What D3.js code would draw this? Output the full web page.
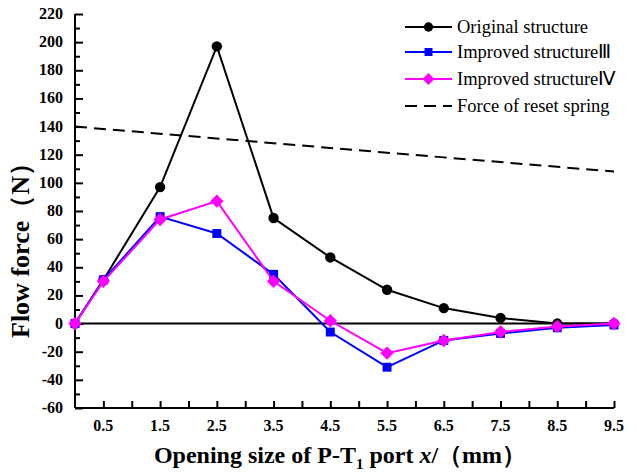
<!DOCTYPE html>
<html lang="en">

<head>
    <meta charset="UTF-8">
    <title>Flow force</title>
    <script src="https://d3js.org/d3.v7.min.js"></script>
    <style>
        body { margin: 0; background: #fff; }
    </style>
</head>

<body>
    <script>
        var xs = [0, 0.5, 1.5, 2.5, 3.5, 4.5, 5.5, 6.5, 7.5, 8.5, 9.5];
        var original = [0, 31, 97, 197, 75, 47, 24, 11, 4, 0, 0];
        var improved3 = [0, 31, 76, 64, 35, -6, -31, -12, -7, -3, -1];
        var improved4 = [0, 30, 74, 87, 30, 2, -21, -12, -6, -2, 0];
        var springX = [0, 9.5];
        var springY = [140, 108];
        var xTickLabels = [0.5, 1.5, 2.5, 3.5, 4.5, 5.5, 6.5, 7.5, 8.5, 9.5];
        var yTicks = [-60, -40, -20, 0, 20, 40, 60, 80, 100, 120, 140, 160, 180, 200, 220];

        var serif = "'Liberation Serif', 'Times New Roman', serif";
        var width = 637, height = 472;
        var svg = d3.select("body").append("svg")
            .attr("width", width)
            .attr("height", height)
            .style("font-family", serif);

        var x = d3.scaleLinear().domain([0, 9.5]).range([75, 614]);
        var y = d3.scaleLinear().domain([-60, 220]).range([408, 14]);

        // y axis, ticks pointing inward
        var yAxis = svg.append("g").attr("transform", "translate(75,0)");
        yAxis.call(d3.axisRight(y).tickValues(yTicks).tickSize(8).tickFormat(""));
        yAxis.append("g").call(d3.axisRight(y).tickValues(d3.range(-50, 220, 20)).tickSize(5).tickFormat(""));
        yAxis.selectAll(".domain").attr("d", "M0," + y(220) + "V" + y(-60));
        yAxis.selectAll("path, line").attr("stroke", "#000").attr("stroke-width", 2);
        svg.append("g").selectAll("text").data(yTicks).enter().append("text")
            .attr("x", 63).attr("y", function (d) { return y(d) + 5; })
            .attr("text-anchor", "end")
            .style("font-family", serif)
            .attr("font-size", 16).attr("font-weight", "bold")
            .text(function (d) { return d; });

        // x axis at bottom, ticks pointing up
        var xAxis = svg.append("g").attr("transform", "translate(0,408)");
        xAxis.call(d3.axisTop(x).tickValues(d3.range(0.5, 9.51, 0.5)).tickSize(7).tickFormat(""));
        xAxis.selectAll(".domain").attr("d", "M" + x(0) + ",0H" + x(9.5));
        xAxis.selectAll("path, line").attr("stroke", "#000").attr("stroke-width", 2);
        svg.append("g").selectAll("text").data(xTickLabels).enter().append("text")
            .attr("x", function (d) { return x(d); }).attr("y", 431)
            .attr("text-anchor", "middle")
            .style("font-family", serif)
            .attr("font-size", 16).attr("font-weight", "bold")
            .text(function (d) { return d.toFixed(1); });

        // zero line
        svg.append("line")
            .attr("x1", x(0)).attr("x2", x(9.5))
            .attr("y1", y(0)).attr("y2", y(0))
            .attr("stroke", "#000").attr("stroke-width", 2);

        // reset spring force
        var spring = springX.map(function (d, i) { return [d, springY[i]]; });
        var line = d3.line().x(function (d) { return x(d[0]); }).y(function (d) { return y(d[1]); });
        svg.append("path").datum(spring)
            .attr("d", line)
            .attr("fill", "none").attr("stroke", "#000")
            .attr("stroke-width", 2).attr("stroke-dasharray", "12,7");

        // diamond = square turned 45 degrees
        var series = [
            { name: "Original structure", values: original, color: "#000", symbol: d3.symbolCircle, size: 85, rot: 0 },
            { name: "Improved structure\u2162", values: improved3, color: "#0000ff", symbol: d3.symbolSquare, size: 80, rot: 0 },
            { name: "Improved structure\u2163", values: improved4, color: "#ff00ff", symbol: d3.symbolSquare, size: 90, rot: 45 }
        ];

        series.forEach(function (s) {
            var pts = xs.map(function (d, i) { return [d, s.values[i]]; });
            svg.append("path").datum(pts)
                .attr("d", line)
                .attr("fill", "none").attr("stroke", s.color).attr("stroke-width", 2);
            svg.append("g").selectAll("path").data(pts).enter().append("path")
                .attr("d", d3.symbol().type(s.symbol).size(s.size))
                .attr("transform", function (d) { return "translate(" + x(d[0]) + "," + y(d[1]) + ") rotate(" + s.rot + ")"; })
                .attr("fill", s.color);
        });

        // legend
        var legend = svg.append("g");
        var rowY = [27, 52, 79, 106];
        series.forEach(function (s, i) {
            legend.append("line")
                .attr("x1", 405).attr("x2", 452).attr("y1", rowY[i]).attr("y2", rowY[i])
                .attr("stroke", s.color).attr("stroke-width", 2);
            legend.append("path")
                .attr("d", d3.symbol().type(s.symbol).size(s.size * 0.8))
                .attr("transform", "translate(428.5," + rowY[i] + ") rotate(" + s.rot + ")")
                .attr("fill", s.color);
            legend.append("text")
                .attr("x", 457).attr("y", rowY[i] + 6)
                .style("font-family", serif)
                .attr("font-size", 18.5)
                .text(s.name);
        });
        legend.append("line")
            .attr("x1", 405).attr("x2", 452).attr("y1", rowY[3]).attr("y2", rowY[3])
            .attr("stroke", "#000").attr("stroke-width", 2).attr("stroke-dasharray", "12,7");
        legend.append("text")
            .attr("x", 457).attr("y", rowY[3] + 6)
            .style("font-family", serif)
            .attr("font-size", 18.5)
            .text("Force of reset spring");

        // axis titles
        svg.append("text")
            .attr("transform", "translate(29,244) rotate(-90)")
            .attr("text-anchor", "middle")
            .style("font-family", serif)
            .attr("font-size", 26).attr("font-weight", "bold")
            .text("Flow force\uff08N\uff09");

        var xt = svg.append("text")
            .attr("x", 340).attr("y", 463)
            .attr("text-anchor", "middle")
            .style("font-family", serif)
            .attr("font-size", 24).attr("font-weight", "bold");
        xt.append("tspan").text("Opening size of P-T");
        xt.append("tspan").attr("font-size", 15).attr("dy", 6).text("1");
        xt.append("tspan").attr("dy", -6).text(" port  ");
        xt.append("tspan").attr("font-style", "italic").text("x");
        xt.append("tspan").text("/\uff08mm\uff09");
    </script>
</body>

</html>
